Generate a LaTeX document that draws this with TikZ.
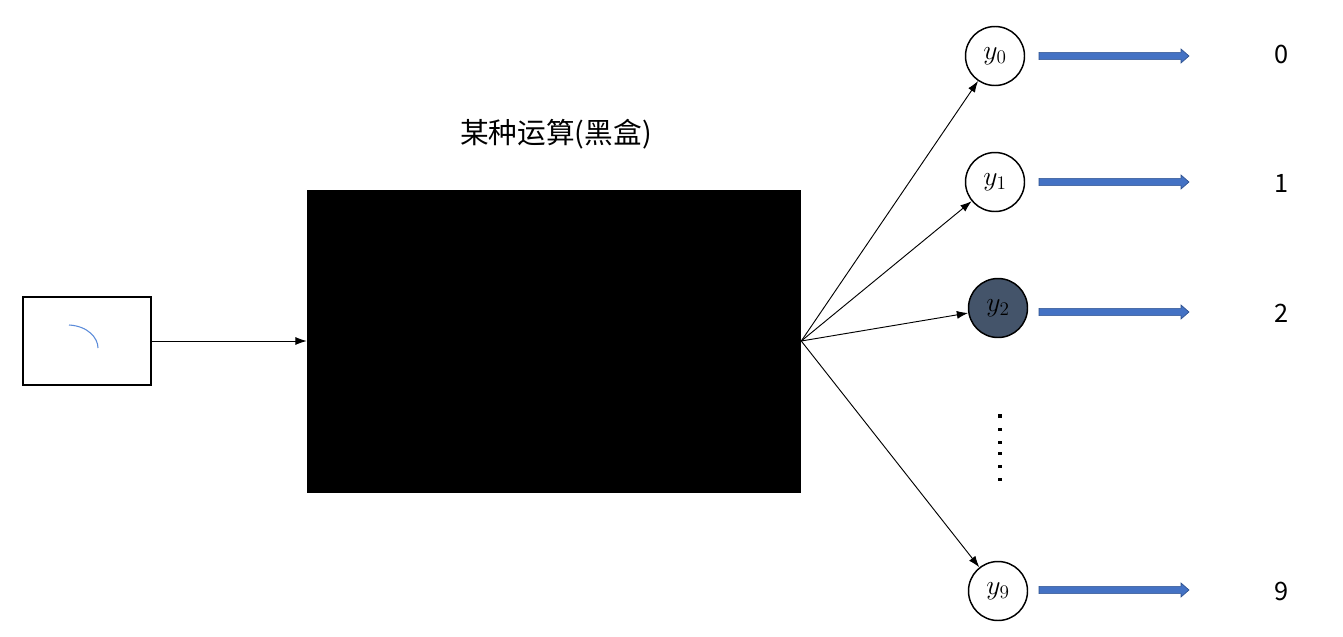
\documentclass[tikz,border=0pt]{standalone}
\usepackage{fontspec}
\newfontfamily\cjk{Noto Sans CJK SC}
\usetikzlibrary{arrows.meta}
\definecolor{arrowblue}{HTML}{4472C4}
\definecolor{arrowedge}{HTML}{2F528F}
\definecolor{darknode}{HTML}{44546A}
\definecolor{arcblue}{HTML}{5B8BD9}
\tikzset{
  ynode/.style={circle,draw=black,line width=1.1pt,fill=white,minimum size=44.25pt,inner sep=0pt,font=\huge},
  fanline/.style={line width=0.7pt,-{Latex[length=8.5pt,width=6pt]}},
  bluearrow/.style={draw=arrowedge,fill=arrowblue,line width=0.5pt,line join=miter},
  numlabel/.style={font=\cjk\fontsize{19pt}{22pt}\selectfont},
}
\newcommand\bluearr[1]{\filldraw[bluearrow] (1039,#1-3.6) -- (1181,#1-3.6) -- (1181,#1-7) -- (1189,#1) -- (1181,#1+7) -- (1181,#1+3.6) -- (1039,#1+3.6) -- cycle;}
\begin{document}
\begin{tikzpicture}[x=0.75pt,y=-0.75pt]
\useasboundingbox (0,0) rectangle (1343,636);
% input box
\node[draw=black,line width=1.25pt,minimum width=96pt,minimum height=66pt,inner sep=0pt] (inbox) at (87,341) {};
\draw[arcblue,line width=0.8pt] (69,325) .. controls (88,326) and (98,338) .. (98,348);
% black box
\node[fill=black,minimum width=370.5pt,minimum height=227.25pt,inner sep=0pt] (bb) at (554,341) {};
\node[font=\cjk\fontsize{21.5pt}{25pt}\selectfont] (title) at (556,134) {某种运算(黑盒)};
\draw[fanline] (inbox.east) -- (bb.west);
% output nodes
\node[ynode] (y0) at (995,56) {$y_0$};
\node[ynode] (y1) at (995,182) {$y_1$};
\node[ynode,fill=darknode] (y2) at (998,308) {$y_2$};
\node[ynode] (y9) at (998,591) {$y_9$};
\foreach \n in {y0,y1,y2,y9}{\draw[fanline] (bb.east) -- (\n);}
% dots
\foreach \yy in {416,429.3,442.3,453.3,466.7,479.3}{\fill (998.3,\yy-1.7) rectangle (1001.7,\yy+1.7);}
% blue arrows
\bluearr{56}
\bluearr{182}
\bluearr{312}
\bluearr{590}
% labels
\node[numlabel] (n0) at (1282,54) {0};
\node[numlabel] (n1) at (1282,183) {1};
\node[numlabel] (n2) at (1282,313) {2};
\node[numlabel] (n9) at (1282,591) {9};
\end{tikzpicture}
\end{document}
